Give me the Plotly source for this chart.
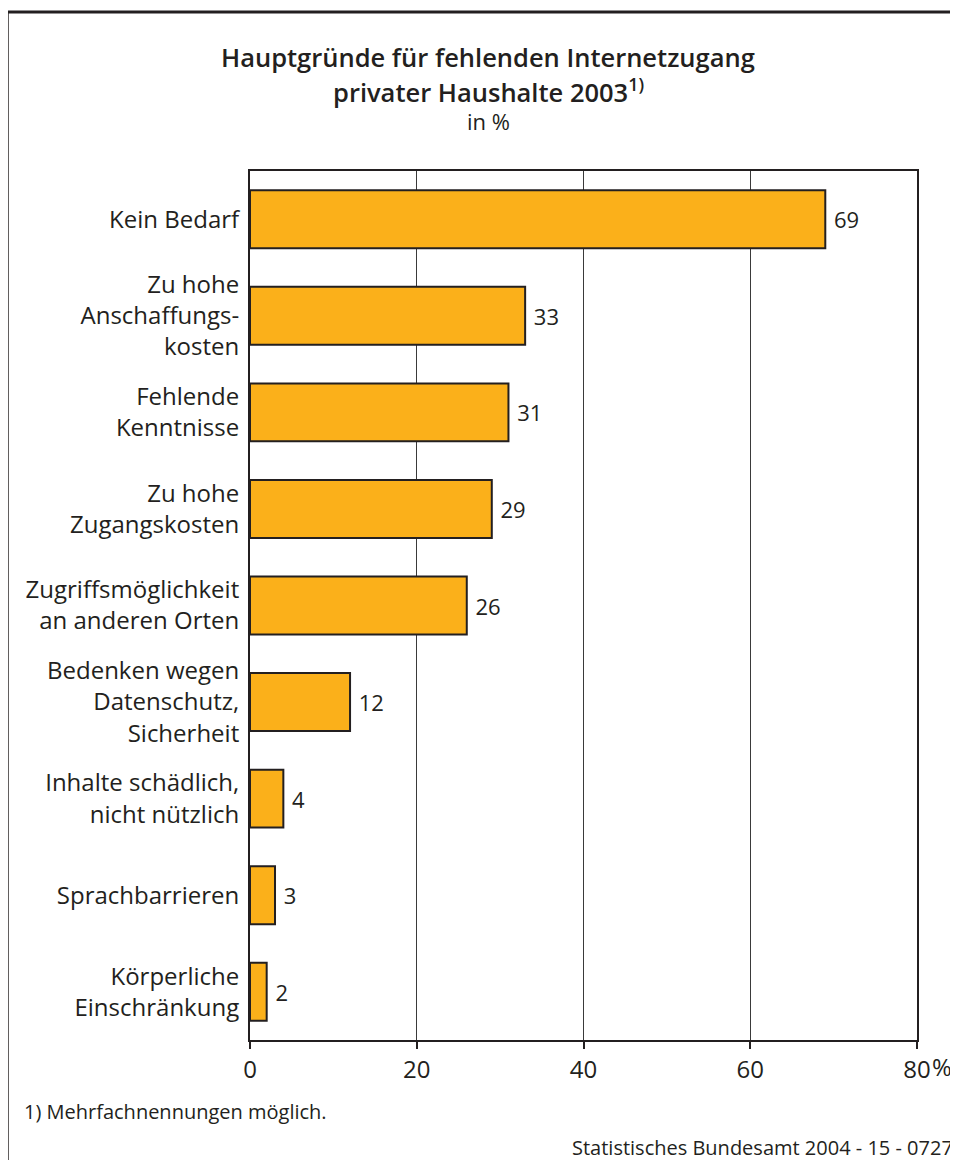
import plotly.graph_objects as go

# data
categories = [
    "Kein Bedarf",
    "Zu hohe<br>Anschaffungs-<br>kosten",
    "Fehlende<br>Kenntnisse",
    "Zu hohe<br>Zugangskosten",
    "Zugriffsmöglichkeit<br>an anderen Orten",
    "Bedenken wegen<br>Datenschutz,<br>Sicherheit",
    "Inhalte schädlich,<br>nicht nützlich",
    "Sprachbarrieren",
    "Körperliche<br>Einschränkung",
]
values = [69, 33, 31, 29, 26, 12, 4, 3, 2]
x_ticks = [0, 20, 40, 60, 80]
x_ticktext = ["0", "20", "40", "60", "80"]

FONT = "Open Sans"
INK = "#231f20"

fig = go.Figure()

fig.add_trace(
    go.Bar(
        x=values,
        y=categories,
        orientation="h",
        width=0.6,
        marker=dict(color="#fbb01a", line=dict(color=INK, width=2)),
        text=values,
        texttemplate=" %{x}",
        textposition="outside",
        textfont=dict(family=FONT, size=22, color=INK),
        cliponaxis=False,
        showlegend=False,
    )
)

# the page body adds 8px around the figure, margins account for that
fig.update_layout(
    width=958,
    height=1160,
    margin=dict(l=242, r=49, t=163, b=128),
    paper_bgcolor="white",
    plot_bgcolor="white",
    font=dict(family=FONT, size=24, color=INK),
    xaxis=dict(
        range=[0, 80],
        tickvals=x_ticks,
        ticktext=x_ticktext,
        showgrid=True,
        gridcolor="#3a3a3a",
        gridwidth=1,
        showline=True,
        linecolor=INK,
        linewidth=2,
        mirror=True,
        ticks="outside",
        ticklen=7,
        tickcolor=INK,
        tickwidth=1.5,
        tickfont=dict(size=24),
        zeroline=False,
    ),
    yaxis=dict(
        categoryorder="array",
        categoryarray=categories,
        autorange="reversed",
        showline=True,
        linecolor=INK,
        linewidth=2,
        mirror=True,
        ticks="",
        ticklabelstandoff=4,
        tickfont=dict(size=24),
    ),
    shapes=[
        # outer frame (only top and left edges fall inside the page)
        dict(
            type="rect",
            xref="paper",
            yref="paper",
            x0=-0.364,
            x1=1.2,
            y0=-0.3,
            y1=1.183,
            line=dict(color=INK, width=3),
        )
    ],
    annotations=[
        dict(
            text="Hauptgründe für fehlenden Internetzugang",
            xref="paper", yref="paper",
            x=0.357, y=1.131, xanchor="center", yanchor="middle",
            showarrow=False, font=dict(size=25.5, weight=600),
        ),
        dict(
            text="privater Haushalte 2003<sup>1)</sup>",
            xref="paper", yref="paper",
            x=0.357, y=1.093, xanchor="center", yanchor="middle",
            showarrow=False, font=dict(size=25.5, weight=600),
        ),
        dict(
            text="in %",
            xref="paper", yref="paper",
            x=0.357, y=1.058, xanchor="center", yanchor="middle",
            showarrow=False, font=dict(size=22),
        ),
        dict(
            text="%",
            xref="paper", yref="paper",
            x=1.019, y=-0.031, xanchor="left", yanchor="middle",
            showarrow=False, font=dict(size=24),
        ),
        dict(
            text="1) Mehrfachnennungen möglich.",
            xref="paper", yref="paper",
            x=-0.342, y=-0.082, xanchor="left", yanchor="middle",
            showarrow=False, font=dict(size=20),
        ),
        dict(
            text="Statistisches Bundesamt 2004 - 15 - 0727",
            xref="paper", yref="paper",
            x=1.057, y=-0.124, xanchor="right", yanchor="middle",
            showarrow=False, font=dict(size=20),
        ),
    ],
)

fig.write_html("out.html")
